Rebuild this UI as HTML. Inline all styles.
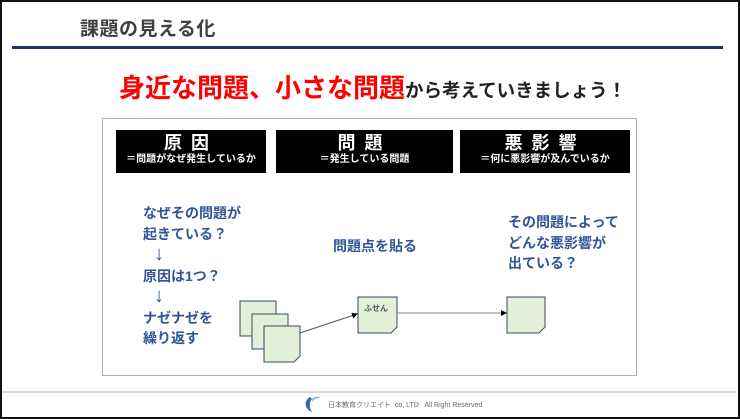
<!DOCTYPE html>
<html><head><meta charset="utf-8"><style>
body{margin:0;width:740px;height:419px;overflow:hidden;background:#fff;font-family:"Liberation Sans","Noto Sans CJK JP",sans-serif;}
.frame{position:absolute;left:0;top:0;width:736px;height:415px;border:2px solid #111;}
.abs{position:absolute;white-space:nowrap}
.bb{position:absolute;background:#000;color:#fff;text-align:center;top:130px;height:43px}
.bb .t{font-size:18px;font-weight:bold;letter-spacing:9px;margin-top:3px;line-height:20px}
.bb .s{font-size:10px;font-weight:bold;line-height:14px}
.blue{color:#2f5597;font-weight:bold;font-size:14px;line-height:20.5px}
.arr{font-size:20px;font-weight:normal}
</style></head><body>
<div class="frame"></div>
<div class="abs" style="left:80px;top:14px;font-size:19px;font-weight:bold;color:#404040;letter-spacing:0.5px">課題の見える化</div>
<div class="abs" style="left:12px;top:46px;width:711px;height:3px;background:#1f3164"></div>
<div class="abs" style="left:119px;top:68px;font-weight:bold;color:#f00;font-size:26px">身近な問題、小さな問題<span style="color:#222;font-size:18.5px">から考えていきましょう！</span></div>
<div class="abs" style="left:102px;top:118px;width:533px;height:256px;border:1px solid #a8b0c8"></div>
<div class="bb" style="left:116px;width:150px"><div class="t">原因</div><div class="s">＝問題がなぜ発生しているか</div></div>
<div class="bb" style="left:276px;width:177px"><div class="t">問題</div><div class="s">＝発生している問題</div></div>
<div class="bb" style="left:460px;width:170px"><div class="t">悪影響</div><div class="s">＝何に悪影響が及んでいるか</div></div>
<div class="abs blue" style="left:143px;top:203px">なぜその問題が<br>起きている？<br><span class="arr">&nbsp;&nbsp;↓</span><br>原因は1つ？<br><span class="arr">&nbsp;&nbsp;↓</span><br>ナゼナゼを<br>繰り返す</div>
<div class="abs blue" style="left:333px;top:236px">問題点を貼る</div>
<div class="abs blue" style="left:508px;top:212px">その問題によって<br>どんな悪影響が<br>出ている？</div>
<svg class="abs" style="left:0;top:0" width="740" height="419">
<defs><marker id="a" markerWidth="6" markerHeight="6" refX="5" refY="3" orient="auto"><path d="M0,0L6,3L0,6z" fill="#000"/></marker></defs>
<g fill="#e2efd9" stroke="#3b4a66" stroke-width="1">
<rect x="240" y="301" width="36" height="35"/>
<rect x="252" y="314" width="36" height="35"/>
<path d="M264,326h36v30l-6,6h-30z"/>
<path d="M358,297h39v30l-6,6h-33z"/>
<path d="M507,297h38v30l-6,6h-32z"/>
</g>
<line x1="300" y1="333" x2="357" y2="314" stroke="#555" marker-end="url(#a)"/>
<line x1="397" y1="313" x2="506" y2="313" stroke="#888" marker-end="url(#a)"/>
<rect x="2" y="391" width="734" height="2" fill="#d8d8d8"/>
<path d="M310,397c-6,3-6,12,2,15c-3-4-3-10,0-13z" fill="#2a6db5"/>
<path d="M312,399c3,-3,7,-3,8,-1c-3,0-6,1-8,4z" fill="#7cc0ea"/>
</svg>
<div class="abs" style="left:364px;top:303px;font-size:8px;font-weight:bold;color:#555">ふせん</div>
<div class="abs" style="left:328px;top:400px;font-size:7px;color:#666">日本教育クリエイト&nbsp; co, LTD&nbsp;&nbsp; All Right Reserved</div>
</body></html>
